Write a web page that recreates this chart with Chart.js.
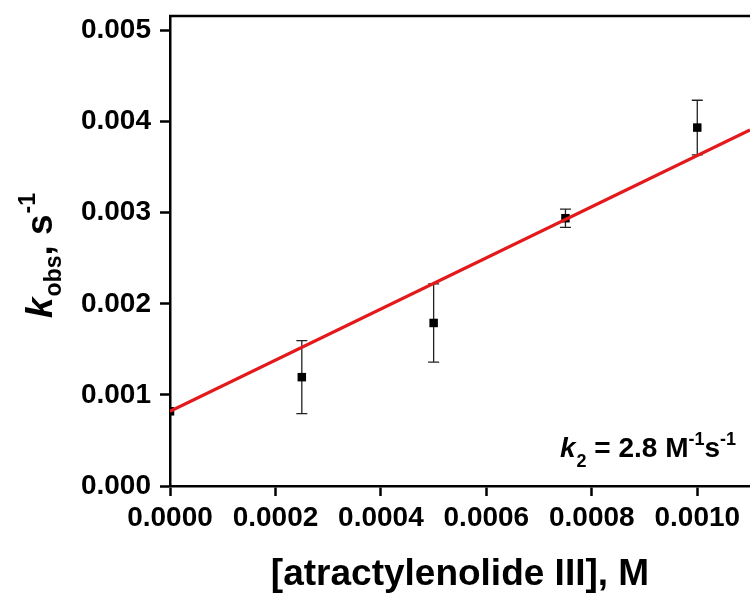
<!DOCTYPE html>
<html>
<head>
<meta charset="utf-8">
<script src="https://cdn.jsdelivr.net/npm/chart.js@4.4.1/dist/chart.umd.min.js"></script>
<style>
  body { margin: 0; background: #fff; }
  canvas { display: block; }
</style>
</head>
<body>
<canvas id="chart-area" width="750" height="595"></canvas>
<script>
// concentration of atractylenolide III (M) and observed rate constants (s^-1)
var concM = [0, 0.00025, 0.0005, 0.00075, 0.001];
var kObs = [0.00082, 0.001195, 0.00179, 0.00294, 0.003935];
var kErr = [0, 0.0004, 0.00043, 0.0001, 0.0003];

// linear fit, k2 = 2.8 M^-1 s^-1
var fitX = [0, 0.0011];
var fitY = [0.00082, 0.00391];

var xTicks = [0, 0.0002, 0.0004, 0.0006, 0.0008, 0.001];
var yTicks = [0, 0.001, 0.002, 0.003, 0.004, 0.005];

var FONT = "'Liberation Sans', Arial, sans-serif";

function toPoints(xs, ys) {
    return xs.map(function (x, i) { return { x: x, y: ys[i] }; });
}

// error bars, axis titles and the k2 note
var extras = {
    id: "extras",
    beforeDatasetsDraw: function (chart) {
        var c = chart.ctx;
        var xs = chart.scales.x, ys = chart.scales.y;
        c.save();
        c.strokeStyle = "#222";
        c.lineWidth = 1.3;
        for (var i = 0; i < concM.length; i++) {
            if (!kErr[i]) continue;
            var px = xs.getPixelForValue(concM[i]);
            var top = ys.getPixelForValue(kObs[i] + kErr[i]);
            var bot = ys.getPixelForValue(kObs[i] - kErr[i]);
            c.beginPath();
            c.moveTo(px, top); c.lineTo(px, bot);
            c.moveTo(px - 5.5, top); c.lineTo(px + 5.5, top);
            c.moveTo(px - 5.5, bot); c.lineTo(px + 5.5, bot);
            c.stroke();
        }
        c.restore();
    },
    afterDraw: function (chart) {
        var c = chart.ctx;
        var a = chart.chartArea;
        c.save();
        // top frame line
        c.strokeStyle = "#000";
        c.lineWidth = 2.5;
        c.beginPath();
        c.moveTo(a.left - 1, a.top);
        c.lineTo(a.right, a.top);
        c.stroke();

        c.fillStyle = "#000";
        c.textBaseline = "alphabetic";

        // x title
        c.font = "bold 37px " + FONT;
        c.textAlign = "center";
        c.fillText("[atractylenolide III], M", 460, 585);

        // y title, rotated
        c.translate(52, 318);
        c.rotate(-Math.PI / 2);
        c.textAlign = "left";
        var x = 0;
        c.font = "italic bold 37px " + FONT;
        c.fillText("k", x, 0); x += c.measureText("k").width + 1;
        c.font = "bold 23px " + FONT;
        c.fillText("obs", x, 9); x += c.measureText("obs").width;
        c.font = "bold 37px " + FONT;
        c.fillText(", s", x, 0); x += c.measureText(", s").width + 1;
        c.font = "bold 23px " + FONT;
        c.fillText("-1", x, -17);
        c.restore();

        // k2 note
        c.save();
        c.fillStyle = "#000";
        c.textAlign = "left";
        c.textBaseline = "alphabetic";
        var nx = 560, ny = 457;
        c.font = "italic bold 28px " + FONT;
        c.fillText("k", nx, ny); nx += c.measureText("k").width + 1;
        c.font = "bold 18px " + FONT;
        c.fillText("2", nx, ny + 10); nx += c.measureText("2").width;
        c.font = "bold 28px " + FONT;
        c.fillText(" = 2.8 M", nx, ny); nx += c.measureText(" = 2.8 M").width;
        c.font = "bold 18px " + FONT;
        c.fillText("-1", nx, ny - 12); nx += c.measureText("-1").width;
        c.font = "bold 28px " + FONT;
        c.fillText("s", nx, ny); nx += c.measureText("s").width;
        c.font = "bold 18px " + FONT;
        c.fillText("-1", nx, ny - 12);
        c.restore();
    }
};

var ctx = document.getElementById("chart-area");

var myChart = new Chart(ctx, {
    type: "scatter",
    data: {
        datasets: [
            {
                label: "k obs",
                data: toPoints(concM, kObs),
                pointStyle: "rect",
                pointRadius: 6,
                pointBackgroundColor: "#000",
                pointBorderColor: "#000",
                pointBorderWidth: 0,
                showLine: false,
                order: 2
            },
            {
                label: "fit",
                type: "line",
                data: toPoints(fitX, fitY),
                borderColor: "#e3191c",
                borderWidth: 3.2,
                pointRadius: 0,
                fill: false,
                order: 1
            }
        ]
    },
    options: {
        responsive: false,
        animation: false,
        layout: {
            autoPadding: false,
            padding: { top: 16, right: 0, left: 0, bottom: 0 }
        },
        plugins: {
            legend: { display: false },
            tooltip: { enabled: false }
        },
        scales: {
            x: {
                type: "linear",
                min: 0,
                max: 0.0011,
                afterFit: function (s) {
                    s.height = 109;
                    s.paddingLeft = 0;
                    s.paddingRight = 0;
                },
                afterBuildTicks: function (s) {
                    s.ticks = xTicks.map(function (v) { return { value: v }; });
                },
                grid: {
                    drawOnChartArea: false,
                    drawTicks: true,
                    tickLength: 10,
                    tickWidth: 2.5,
                    tickColor: "#000"
                },
                border: { color: "#000", width: 2.5 },
                ticks: {
                    maxRotation: 0,
                    autoSkip: false,
                    padding: 5,
                    color: "#000",
                    font: { family: FONT, size: 28, weight: "bold" },
                    callback: function (v) { return Number(v).toFixed(4); }
                }
            },
            y: {
                type: "linear",
                min: 0,
                max: 0.00516,
                afterFit: function (s) {
                    s.width = 170;
                    s.paddingTop = 0;
                    s.paddingBottom = 0;
                },
                afterBuildTicks: function (s) {
                    s.ticks = yTicks.map(function (v) { return { value: v }; });
                },
                grid: {
                    drawOnChartArea: false,
                    drawTicks: true,
                    tickLength: 10,
                    tickWidth: 2.5,
                    tickColor: "#000"
                },
                border: { color: "#000", width: 2.5 },
                ticks: {
                    padding: 9,
                    color: "#000",
                    font: { family: FONT, size: 28, weight: "bold" },
                    callback: function (v) { return Number(v).toFixed(3); }
                }
            }
        }
    },
    plugins: [extras]
});
</script>
</body>
</html>
